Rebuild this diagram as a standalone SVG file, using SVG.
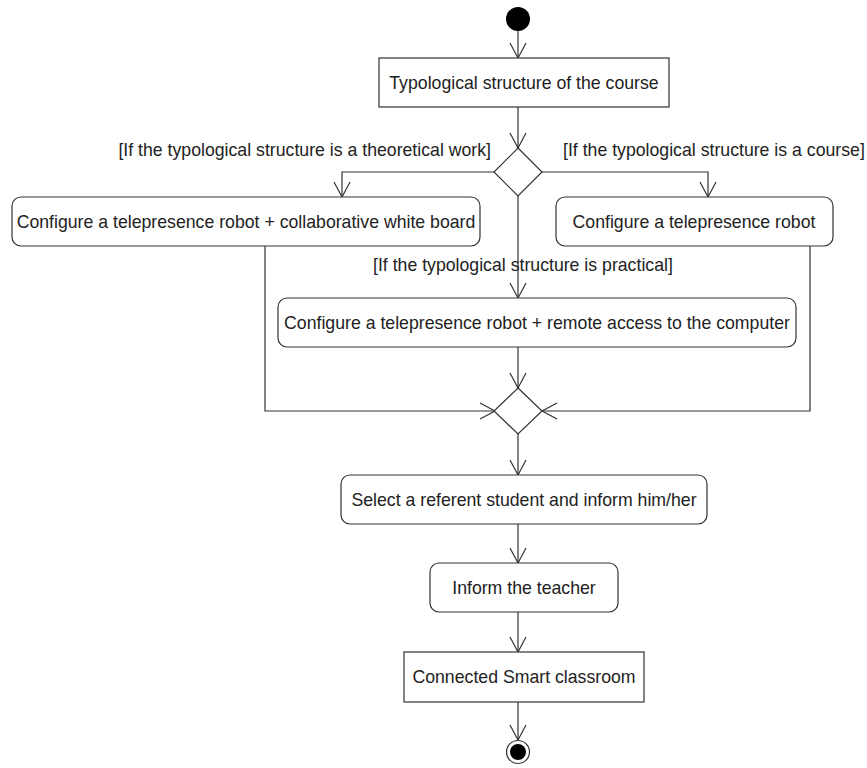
<svg xmlns="http://www.w3.org/2000/svg" width="867" height="768" viewBox="0 0 867 768">
<defs>
<style>
.box{fill:#fff;stroke:#333;stroke-width:1.2}
.t{font-family:"Liberation Sans",Arial,sans-serif;font-size:17.7px;fill:#222}
.c{fill:none;stroke:#333;stroke-width:1.2}
</style>
<marker id="arr" viewBox="-16 -9 17 18" refX="0" refY="0" markerWidth="17" markerHeight="18" markerUnits="userSpaceOnUse" orient="auto" overflow="visible">
<path d="M-15,-8 L0,0 L-15,8" fill="none" stroke="#333" stroke-width="1.2"/>
</marker>
</defs>
<rect width="867" height="768" fill="#fff"/>
<g id="connectors">
<path class="c" d="M518,31 V58" marker-end="url(#arr)"/>
<path class="c" d="M518,107 V148" marker-end="url(#arr)"/>
<path class="c" d="M495,172 H342 V197" marker-end="url(#arr)"/>
<path class="c" d="M542,172 H708 V197" marker-end="url(#arr)"/>
<path class="c" d="M518,196 V298" marker-end="url(#arr)"/>
<path class="c" d="M518,347 V388" marker-end="url(#arr)"/>
<path class="c" d="M265,246 V411 H495" marker-end="url(#arr)"/>
<path class="c" d="M810,246 V411 H542" marker-end="url(#arr)"/>
<path class="c" d="M518,434 V475" marker-end="url(#arr)"/>
<path class="c" d="M518,524 V563" marker-end="url(#arr)"/>
<path class="c" d="M518,612 V652" marker-end="url(#arr)"/>
<path class="c" d="M518,702 V740" marker-end="url(#arr)"/>
<text class="t" x="491" y="156" text-anchor="end">[If the typological structure is a theoretical work]</text>
<text class="t" x="563" y="156">[If the typological structure is a course]</text>
<text class="t" x="373" y="271">[If the typological structure is practical]</text>
</g>
<g id="start"><circle cx="518" cy="19" r="12" fill="#000"/></g>
<g id="typological">
<rect class="box" x="379" y="58" width="290" height="49"/>
<text class="t" x="524" y="88.5" text-anchor="middle">Typological structure of the course</text>
</g>
<g id="decision"><path class="box" d="M518,148 L542,172 L518,196 L494,172 Z"/></g>
<g id="whiteboard">
<rect class="box" x="12" y="197" width="468" height="49" rx="9"/>
<text class="t" x="246" y="228" text-anchor="middle">Configure a telepresence robot + collaborative white board</text>
</g>
<g id="robot">
<rect class="box" x="556" y="197" width="277" height="49" rx="9"/>
<text class="t" x="694" y="228" text-anchor="middle">Configure a telepresence robot</text>
</g>
<g id="remote">
<rect class="box" x="278" y="298" width="518" height="49" rx="9"/>
<text class="t" x="537" y="328.5" text-anchor="middle">Configure a telepresence robot + remote access to the computer</text>
</g>
<g id="merge"><path class="box" d="M518,388 L542,411 L518,434 L494,411 Z"/></g>
<g id="select">
<rect class="box" x="341" y="475" width="366" height="49" rx="9"/>
<text class="t" x="524" y="505.5" text-anchor="middle">Select a referent student and inform him/her</text>
</g>
<g id="inform">
<rect class="box" x="430" y="563" width="188" height="49" rx="9"/>
<text class="t" x="524" y="594" text-anchor="middle">Inform the teacher</text>
</g>
<g id="classroom">
<rect class="box" x="404" y="652" width="240" height="50"/>
<text class="t" x="524" y="683" text-anchor="middle">Connected Smart classroom</text>
</g>
<g id="end">
<circle cx="518" cy="752" r="11.5" fill="#fff" stroke="#333" stroke-width="1.2"/>
<circle cx="518" cy="752" r="8" fill="#000"/>
</g>
</svg>
